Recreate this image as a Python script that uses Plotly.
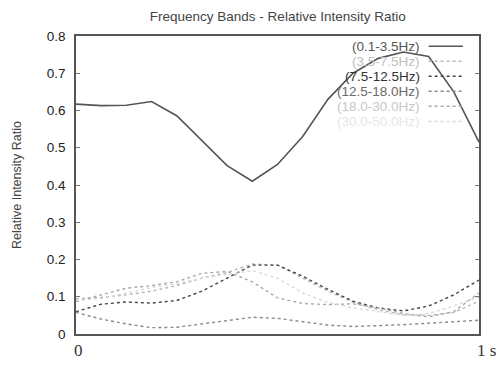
import plotly.graph_objects as go

x_vals = [i / 16 for i in range(17)]

band_labels = ["(0.1-3.5Hz)", "(3.5-7.5Hz)", "(7.5-12.5Hz)", "(12.5-18.0Hz)", "(18.0-30.0Hz)", "(30.0-50.0Hz)"]

band1 = [0.617, 0.613, 0.614, 0.624, 0.586, 0.52, 0.452, 0.41, 0.455, 0.53, 0.63, 0.70, 0.74, 0.757, 0.745, 0.65, 0.515]
band2 = [0.095, 0.098, 0.105, 0.115, 0.13, 0.15, 0.165, 0.188, 0.185, 0.15, 0.115, 0.085, 0.065, 0.052, 0.05, 0.058, 0.088]
band3 = [0.06, 0.08, 0.086, 0.083, 0.09, 0.115, 0.15, 0.185, 0.185, 0.155, 0.12, 0.088, 0.07, 0.062, 0.075, 0.105, 0.145]
band4 = [0.058, 0.04, 0.027, 0.017, 0.018, 0.027, 0.038, 0.045, 0.042, 0.032, 0.024, 0.02, 0.022, 0.025, 0.029, 0.033, 0.037]
band5 = [0.087, 0.105, 0.123, 0.13, 0.14, 0.163, 0.168, 0.14, 0.097, 0.082, 0.079, 0.081, 0.07, 0.055, 0.046, 0.06, 0.11]
band6 = [0.09, 0.095, 0.11, 0.125, 0.135, 0.15, 0.16, 0.17, 0.15, 0.11, 0.085, 0.07, 0.06, 0.05, 0.055, 0.075, 0.10]

x_tick_vals = [0, 1]
x_tick_text = ["0", "1 s"]
y_tick_vals = [0, 0.1, 0.2, 0.3, 0.4, 0.5, 0.6, 0.7, 0.8]

series = [band1, band2, band3, band4, band5, band6]
line_colors = ["#555555", "#b8b8b8", "#444444", "#8a8a8a", "#aaaaaa", "#d8d8d8"]
text_colors = ["#555555", "#c0c0c0", "#333333", "#6a6a6a", "#c8c8c8", "#e6e6e6"]
dashes = ["solid", "dot", "dot", "dot", "dot", "dot"]

fig = go.Figure()
for ys, col, dsh, name in zip(series, line_colors, dashes, band_labels):
    fig.add_trace(go.Scatter(x=x_vals, y=ys, mode="lines", name=name,
                             line=dict(color=col, width=1.6 if dsh == "solid" else 1.4, dash=dsh),
                             showlegend=False))

# custom legend: text right-aligned, sample to the right
row_top = 0.966
row_step = 0.0505
for i, (name, tcol, lcol, dsh) in enumerate(zip(band_labels, text_colors, line_colors, dashes)):
    yy = row_top - i * row_step
    fig.add_annotation(x=0.856, y=yy, xref="paper", yref="paper", text=name,
                       showarrow=False, xanchor="right", yanchor="middle", borderpad=0,
                       font=dict(family="Liberation Sans, Arial", size=13.5, color=tcol))
    fig.add_shape(type="line", xref="paper", yref="paper", x0=0.875, x1=0.960, y0=yy, y1=yy,
                  line=dict(color=lcol, width=1.5, dash=dsh))

# x tick labels (serif, left-aligned at tick)
for v, t in zip(x_tick_vals, x_tick_text):
    fig.add_annotation(x=v, y=0, xref="x", yref="paper", text=t, showarrow=False,
                       xanchor="left", yanchor="top", yshift=-5, xshift=-4,
                       font=dict(family="Liberation Serif, Times New Roman", size=17, color="#333"))

fig.update_layout(
    width=496, height=367,
    margin=dict(l=76, r=17, t=36, b=33),
    paper_bgcolor="white", plot_bgcolor="white",
    title=dict(text="Frequency Bands - Relative Intensity Ratio", x=0.56, xanchor="center",
               y=0.957, yanchor="middle",
               font=dict(family="Liberation Sans, Arial", size=13.5, color="#444")),
    font=dict(family="Liberation Sans, Arial"),
)
fig.update_xaxes(range=[0, 1], showgrid=False, zeroline=False, showticklabels=False,
                 tickvals=x_tick_vals, ticks="",
                 showline=True, linecolor="#555", linewidth=1.5, mirror=True)
fig.update_yaxes(range=[0, 0.8], showgrid=False, zeroline=False, tickvals=y_tick_vals,
                 ticks="inside", ticklen=4, tickcolor="#777",
                 showline=True, linecolor="#555", linewidth=1.5, mirror="ticks",
                 ticklabelstandoff=6,
                 tickfont=dict(family="Liberation Sans, Arial", size=13.5, color="#222"),
                 title=dict(text="Relative Intensity Ratio", standoff=22,
                            font=dict(family="Liberation Sans, Arial", size=12.5, color="#444")))

fig.write_html("out.html")
